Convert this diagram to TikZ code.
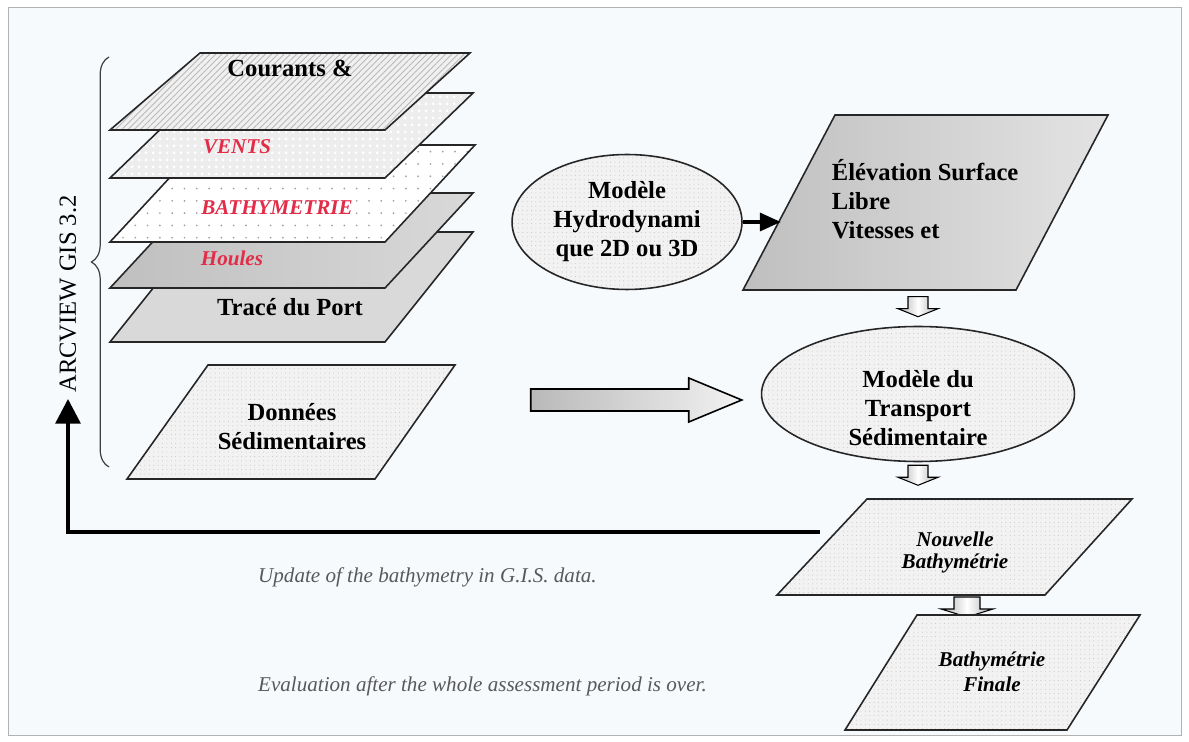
\documentclass[tikz,border=0pt]{standalone}
\usepackage{fontspec}
\setmainfont{Liberation Serif}
\usetikzlibrary{shapes.geometric,arrows.meta,patterns.meta,decorations.pathreplacing,calc}
\definecolor{layerred}{RGB}{226,44,72}
\definecolor{paper}{RGB}{247,250,253}

\begin{document}
\begin{tikzpicture}[x=0.02cm,y=-0.02cm,
    lbl/.style={font=\fontsize{14}{16.5}\selectfont\bfseries,align=center,inner sep=2pt},
    redlbl/.style={font=\fontsize{12}{14}\selectfont\bfseries\itshape,text=layerred},
    itlbl/.style={font=\fontsize{12}{12.5}\selectfont\bfseries\itshape,align=center},
    note/.style={font=\fontsize{12}{14}\selectfont\itshape,text=black!65},
    plane/.style={draw=black!85,line width=0.9pt},
    stipple/.style={preaction={fill=gray!10},pattern={Dots[distance=2.5pt,radius=0.3pt]},pattern color=gray!45},
    ellip/.style={ellipse,plane,stipple,lbl},
    back/.style={line width=2.3pt,-{Triangle[length=14pt,width=14pt]}},
    downarr/.pic={\draw[line width=0.6pt,left color=gray!65,right color=gray!65,middle color=white]
      (-10,0) -- (10,0) -- (10,12) -- (20,12) -- (0,20) -- (-20,12) -- (-10,12) -- cycle;},
    bigarr/.pic={\draw[line width=0.9pt,left color=gray!55,right color=gray!10]
      (0,-11) -- (158,-11) -- (158,-22) -- (211,0) -- (158,22) -- (158,11) -- (0,11) -- cycle;}]
    \useasboundingbox (0,0) rectangle (1189,742);
    \fill[white] (0,0) rectangle (1189,742);
    \draw[gray!60,fill=paper] (8,7) rectangle (1181,735);
    % GIS layers, bottom one first
    \draw[plane,fill=gray!30] (110,342) -- (385,342) -- (473,232) -- (198,232) -- cycle;
    \node[lbl] (trace) at (290,307) {Tracé du Port};
    \draw[plane,left color=gray!50,right color=gray!30] (110,288) -- (385,288) -- (473,193) -- (198,193) -- cycle;
    \node[redlbl] (houles) at (232,258) {Houles};
    \draw[plane,preaction={fill=white},pattern={Dots[distance=7pt,radius=0.55pt]},pattern color=gray!75]
      (110,242) -- (385,242) -- (475,145) -- (200,145) -- cycle;
    \node[redlbl] (bathy) at (277,208) {BATHYMETRIE};
    \draw[plane,preaction={fill=gray!14},pattern={Dots[distance=4pt,radius=1pt]},pattern color=white]
      (110,178) -- (385,178) -- (473,93) -- (198,93) -- cycle;
    \node[redlbl] (vents) at (237,147) {VENTS};
    \draw[plane,preaction={fill=gray!12},pattern={Lines[angle=45,distance=2.5pt,line width=0.5pt]},pattern color=gray!55]
      (110,130) -- (385,130) -- (470,53) -- (200,53) -- cycle;
    \node[lbl] (courants) at (290,68) {Courants \&};
    \node[rotate=90,font=\fontsize{14}{16}\selectfont] (arcview) at (68,294) {ARCVIEW GIS 3.2};
    \coordinate (brtop) at (109,57);
    \coordinate (brbot) at (109,467);
    \draw[decorate,decoration={brace,amplitude=10pt},black!75,line width=0.7pt] (brbot) -- (brtop);
    % sediment data
    \draw[plane,stipple] (127,479) -- (375,479) -- (455,365) -- (208,365) -- cycle;
    \node[lbl] (donnees) at (292,427) {Données\\Sédimentaires};
    % models
    \node[ellip,minimum width=4.6cm,minimum height=2.7cm] (hydro) at (627,222) {Modèle\\Hydrodynami\\que 2D ou 3D};
    \draw[plane,left color=gray!50,right color=gray!22] (743,290) -- (1016,290) -- (1108,115) -- (835,115) -- cycle;
    \node[lbl,align=left,anchor=west] (elev) at (828,199) {Élévation Surface\\Libre\\Vitesses et};
    \coordinate (elevin) at (781,222);
    \draw[line width=2.5pt,-{Triangle[length=12pt,width=10pt]}] (hydro) -- (elevin);
    \node[ellip,minimum width=6.26cm,minimum height=2.7cm] (transport) at (918,394) {};
    \node[lbl] (transportlbl) at ([yshift=-8pt]transport.center) {Modèle du\\Transport\\Sédimentaire};
    \pic at ($(transport.north)+(0,-29)$) {downarr};
    \pic at ($(transport.south)+(0,3)$) {downarr};
    \pic at ($(transport.west)+(-230,6)$) {bigarr};
    % results
    \draw[plane,stipple] (777,595) -- (1045,595) -- (1132,499) -- (867,499) -- cycle;
    \node[itlbl] (nouvelle) at (955,552) {Nouvelle\\Bathymétrie};
    \pic[xscale=1.3] at (967,597) {downarr};
    \draw[plane,stipple] (845,730) -- (1067,730) -- (1140,615) -- (917,615) -- cycle;
    \node[itlbl,font=\fontsize{12}{14}\selectfont\bfseries\itshape] (finale) at (992,672) {Bathymétrie\\Finale};
    \coordinate (fbstart) at (820,532);
    \draw[back] (fbstart) -| (arcview.west);
    \node[note,anchor=west] (update) at (252,577) {Update of the bathymetry in G.I.S. data.};
    \node[note,anchor=west] (evaluation) at (252,686) {Evaluation after the whole assessment period is over.};
\end{tikzpicture}
\end{document}
